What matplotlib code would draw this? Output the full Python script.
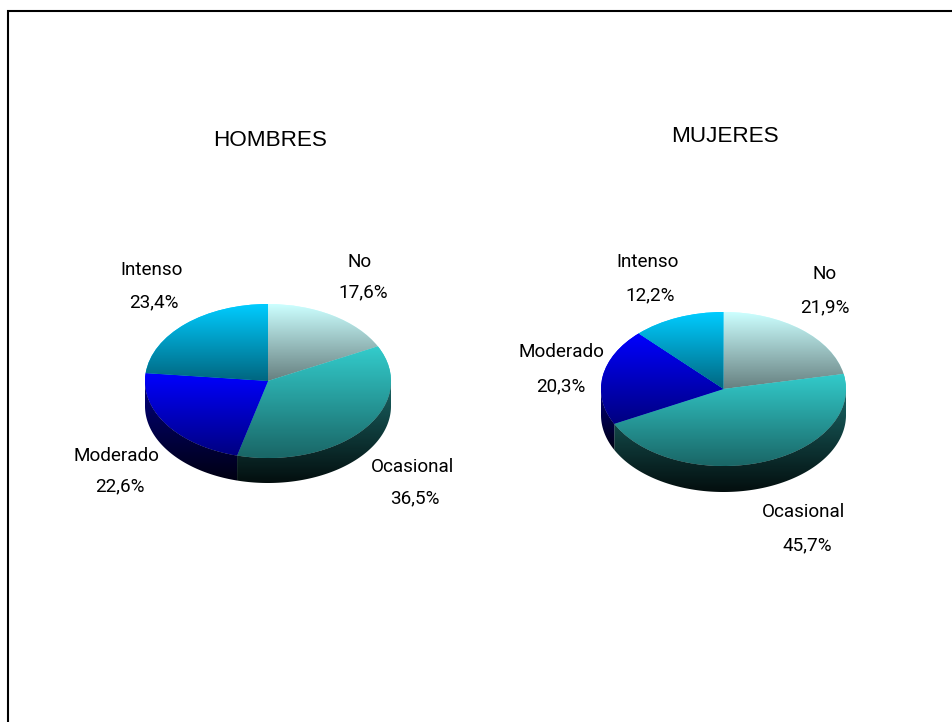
import numpy as np
import matplotlib
matplotlib.use("Agg")
import matplotlib.pyplot as plt
from matplotlib.patches import Polygon
from matplotlib.lines import Line2D

categories = ["No", "Ocasional", "Moderado", "Intenso"]
hombres = [17.6, 36.5, 22.6, 23.4]
mujeres = [21.9, 45.7, 20.3, 12.2]
titles = ["HOMBRES", "MUJERES"]
base_colors = ["#CCFFFF", "#33CCCC", "#0000FF", "#00CCFF"]

W, H = 953, 722
NARROW = ["Roboto", "Liberation Sans", "DejaVu Sans"]
REG = ["Liberation Sans", "DejaVu Sans"]
plt.rcParams["font.family"] = REG

fig = plt.figure(figsize=(W / 100, H / 100), dpi=100, facecolor="white")
overlay = fig.add_axes([0, 0, 1, 1], zorder=5)
overlay.set_xlim(0, W)
overlay.set_ylim(H, 0)
overlay.axis("off")
overlay.patch.set_alpha(0)

# outer frame (cropped at the right and bottom)
overlay.add_line(Line2D([8, 8, W], [H, 11, 11], color="black", lw=1.5, solid_joinstyle="miter"))


def rgb(hexcode):
    return np.array(matplotlib.colors.to_rgb(hexcode))


def gradient(ax, top, bottom, extent, clip):
    t = np.linspace(0, 1, 256)[:, None, None]
    arr = (1 - t) * top[None, None, :] + t * bottom[None, None, :]
    im = ax.imshow(arr, extent=extent, aspect="auto", origin="upper",
                   interpolation="bilinear", zorder=3)
    im.set_clip_path(clip)
    return im


def pie3d(values, cx, cy, rx, ry, depth):
    d = depth / ry
    ax = fig.add_axes([(cx - rx) / W, (H - cy - ry - depth) / H,
                       2 * rx / W, (2 * ry + depth) / H], zorder=2)
    wedges, _ = ax.pie(values, startangle=90, counterclock=False, radius=1,
                       colors=base_colors, wedgeprops=dict(linewidth=0))
    for w, c in zip(wedges, base_colors):
        col = rgb(c)
        ts = np.radians(np.linspace(w.theta1, w.theta2, 400))
        xs, ys = np.cos(ts), np.sin(ts)
        # top surface
        ymax, ymin = max(ys.max(), 0), min(ys.min(), 0)
        gradient(ax, col, col * 0.5, (-1, 1, ymin, ymax), w)
        # side wall: only the part of the rim facing the viewer
        mask = ys <= 0
        if mask.any():
            xl, yl = xs[mask], ys[mask]
            poly = Polygon(np.c_[np.r_[xl, xl[::-1]], np.r_[yl, yl[::-1] - d]],
                           closed=True, facecolor="none", edgecolor="none",
                           transform=ax.transData)
            ax.add_patch(poly)
            gradient(ax, col * 0.5, col * 0.07, (-1, 1, yl.min() - d, yl.max()), poly)
    ax.set_aspect("auto")
    ax.set_xlim(-1, 1)
    ax.set_ylim(-1 - d, 1)
    ax.axis("off")


pie3d(hombres, 268, 381, 123, 77, 25)
pie3d(mujeres, 723.5, 389, 122.5, 77, 26)

overlay.text(270, 141, titles[0], fontsize=16.2, ha="center", va="center", family=REG)
overlay.text(725, 137, titles[1], fontsize=16.2, ha="center", va="center", family=REG)

# label anchor pixels: (name x, name y, value x, value y)
layout_h = [(360, 262, 363, 292), (413, 467, 415, 498), (116, 456, 120, 486), (152, 270, 154, 302)]
layout_m = [(825, 274, 825, 307), (804, 512, 807, 545), (561, 352, 561, 386), (648, 262, 650, 295)]

for vals, lay in ((hombres, layout_h), (mujeres, layout_m)):
    for name, v, (nx, ny, vx, vy) in zip(categories, vals, lay):
        overlay.text(nx, ny, name, fontsize=13.6, ha="center", va="center", family=NARROW)
        overlay.text(vx, vy, f"{v:.1f}".replace(".", ",") + "%", fontsize=13.6,
                     ha="center", va="center", family=NARROW)

fig.savefig("out.png", dpi=100, facecolor="white")
